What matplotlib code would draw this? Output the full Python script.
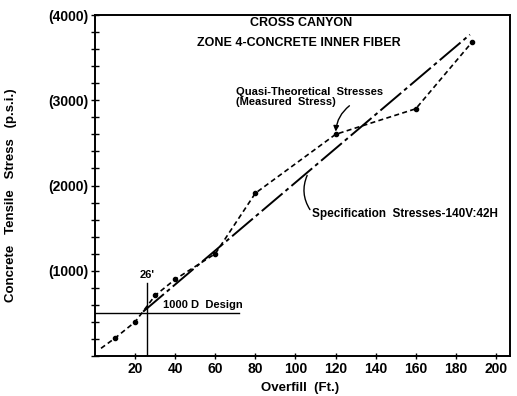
import matplotlib
matplotlib.use("Agg")
import matplotlib.pyplot as plt
from matplotlib.ticker import MultipleLocator

plt.rcParams['font.family'] = ['Liberation Sans', 'DejaVu Sans']
plt.rcParams['font.weight'] = 'bold'
plt.rcParams['axes.labelweight'] = 'bold'

# Measured (quasi-theoretical) stresses
meas_x = [3, 10, 20, 30, 40, 60, 80, 120, 160, 188]
meas_y = [90, 210, 400, 710, 900, 1200, 1910, 2600, 2900, 3680]
marker_x = meas_x[1:]
marker_y = meas_y[1:]

# Specification stresses line
spec_x = [24, 187]
spec_y = [520, 3770]

# Design lines
design_h_x = [0, 72]
design_h_y = [510, 510]
design_v_x = [26, 26]
design_v_y = [0, 860]

x_ticks = [20, 40, 60, 80, 100, 120, 140, 160, 180, 200]
y_ticks = [1000, 2000, 3000, 4000]
y_tick_labels = ['(1000)', '(2000)', '(3000)', '(4000)']

fig = plt.figure(figsize=(5.17, 3.96), dpi=100)
ax = fig.add_axes([95/517, 1 - 356/396, (510 - 95)/517, (356 - 15)/396])

ax.plot(meas_x, meas_y, color='black', lw=1.2, ls=(0, (3, 2)))
ax.plot(marker_x, marker_y, 'o', color='black', ms=3)
ax.plot(spec_x, spec_y, color='black', lw=1.4, ls=(0, (14, 2, 2, 2)))
ax.plot(design_h_x, design_h_y, color='black', lw=1.0)
ax.plot(design_v_x, design_v_y, color='black', lw=1.0)

ax.set_xlim(0, 207)
ax.set_ylim(0, 4000)
ax.set_xticks(x_ticks)
ax.set_xticklabels([str(v) for v in x_ticks], fontsize=10)
ax.set_yticks(y_ticks)
ax.set_yticklabels(y_tick_labels, fontsize=10)
ax.yaxis.set_minor_locator(MultipleLocator(200))
ax.tick_params(axis='y', which='both', direction='inout', length=6, width=1, pad=2)
ax.tick_params(axis='x', which='both', direction='inout', length=5, width=1, pad=2)
for s in ax.spines.values():
    s.set_linewidth(1.4)

ax.set_xlabel('Overfill  (Ft.)', fontsize=9.5, fontweight='bold')
ax.xaxis.set_label_coords((300 - 95) / 415, -(382 - 356) / 341)
ax.set_ylabel('Concrete   Tensile   Stress   (p.s.i.)', fontsize=9.5, fontweight='bold')
ax.yaxis.set_label_coords(-(95 - 17) / 415, 0.472)

ax.text(103, 3905, 'CROSS CANYON', ha='center', va='center', fontsize=9)
ax.text(101.5, 3672, 'ZONE 4-CONCRETE INNER FIBER', ha='center', va='center', fontsize=9)
ax.text(70.4, 3097, 'Quasi-Theoretical  Stresses', ha='left', va='center', fontsize=8)
ax.text(70.4, 2975, '(Measured  Stress)', ha='left', va='center', fontsize=8)
ax.annotate('', xy=(120, 2600), xytext=(128, 2955),
            arrowprops=dict(arrowstyle='-|>', color='black', lw=1,
                            connectionstyle='arc3,rad=0.25', mutation_scale=8))
ax.text(108, 1668, 'Specification  Stresses-140V:42H', ha='left', va='center', fontsize=8.5)
ax.annotate('', xy=(106.4, 2148), xytext=(108, 1690),
            arrowprops=dict(arrowstyle='-', color='black', lw=1,
                            connectionstyle='arc3,rad=-0.3'))
ax.text(26, 950, "26'", ha='center', va='center', fontsize=8)
ax.text(33.8, 600, '1000 D  Design', ha='left', va='center', fontsize=8)

fig.savefig('out.png', dpi=100)
